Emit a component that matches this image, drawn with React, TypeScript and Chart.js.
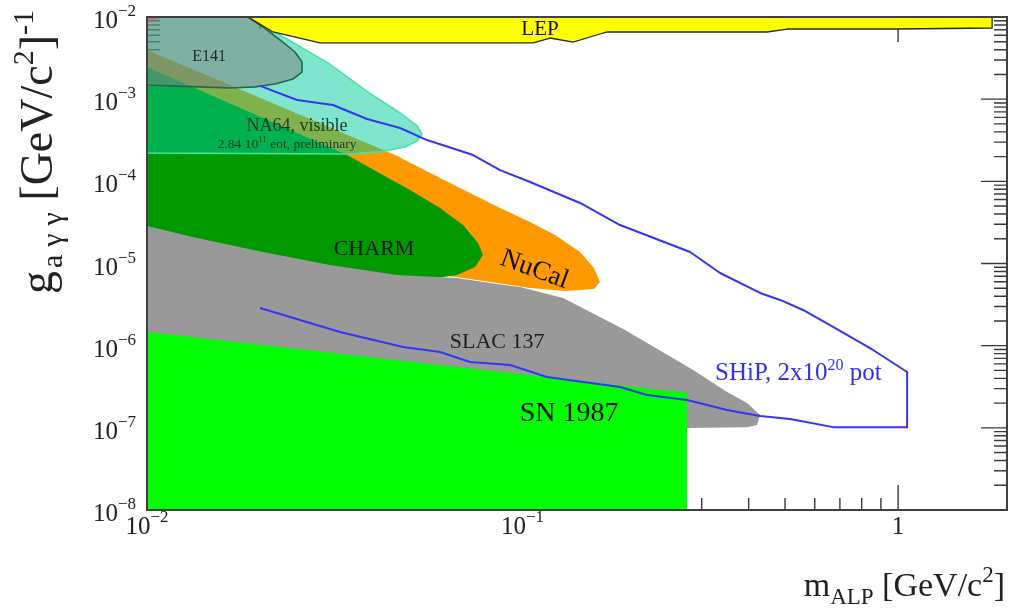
import React, { useEffect, useRef } from "react";
import { Chart, registerables } from "chart.js";

Chart.register(...registerables);

const SERIF = '"Liberation Serif", "Times New Roman", Times, serif';
const W = 1025;
const H = 615;

// Axis ranges: ALP mass [GeV/c^2] and photon coupling [GeV/c^2]^-1
const massRange = [0.01, 1.95];
const couplingRange = [1e-8, 1e-2];

// Tick labels (base, exponent)
const massTickValues = [0.01, 0.1, 1];
const massTickLabels: [string, string][] = [["10", "−2"], ["10", "−1"], ["1", ""]];
const couplingTickValues = [1e-2, 1e-3, 1e-4, 1e-5, 1e-6, 1e-7, 1e-8];
const couplingTickLabels: [string, string][] = [
  ["10", "−2"], ["10", "−3"], ["10", "−4"], ["10", "−5"], ["10", "−6"], ["10", "−7"], ["10", "−8"],
];

// LEP
const lepMass = [0.01858, 0.02165, 0.02888, 0.1067, 0.1184, 0.1363, 0.1608, 0.1679, 0.4479, 0.5064, 0.9938, 1.78, 1.78, 0.01858];
const lepCoupling = [1e-2, 6.57e-3, 4.83e-3, 4.83e-3, 5.55e-3, 4.96e-3, 6.21e-3, 6.57e-3, 6.57e-3, 7.14e-3, 7.14e-3, 7.35e-3, 1e-2, 1e-2];

// small corner region
const cornerMass = [0.01, 0.01103, 0.01];
const cornerCoupling = [1e-2, 1e-2, 8.45e-3];

// E141
const e141Mass = [0.01, 0.01858, 0.02037, 0.02261, 0.02478, 0.02587, 0.02587, 0.02448, 0.02192, 0.0194, 0.01663, 0.01384, 0.01152, 0.01, 0.01];
const e141Coupling = [1e-2, 1e-2, 7.56e-3, 5.25e-3, 3.75e-3, 2.83e-3, 2.14e-3, 1.76e-3, 1.53e-3, 1.41e-3, 1.37e-3, 1.41e-3, 1.45e-3, 1.49e-3, 1e-2];

// NA64 visible, 2.84e11 eot
const na64Mass = [0.01, 0.01858, 0.02331, 0.03034, 0.03877, 0.04719, 0.05237, 0.054, 0.05237, 0.04866, 0.04174, 0.03472, 0.01, 0.01];
const na64Coupling = [1e-2, 1e-2, 5.55e-3, 2.76e-3, 1.22e-3, 6.79e-4, 4.72e-4, 3.77e-4, 3.1e-4, 2.62e-4, 2.28e-4, 2.15e-4, 2.21e-4, 1e-2];

// NuCal
const nucalMass = [0.01, 0.04577, 0.06412, 0.08713, 0.1047, 0.1221, 0.1423, 0.155, 0.1608, 0.155, 0.1298, 0.1047, 0.08555, 0.06944, 0.04719, 0.01];
const nucalCoupling = [3.97e-3, 2.09e-4, 9.55e-5, 4.74e-5, 3.2e-5, 2.22e-5, 1.38e-5, 8.82e-6, 5.95e-6, 4.9e-6, 4.63e-6, 5.03e-6, 5.79e-6, 6.66e-6, 8.34e-6, 1.93e-5];

// CHARM
const charmMass = [0.01, 0.03409, 0.05017, 0.0603, 0.06944, 0.07613, 0.0785, 0.07474, 0.06694, 0.05672, 0.01];
const charmCoupling = [2.46e-3, 2.09e-4, 7.85e-5, 4.74e-5, 2.94e-5, 1.78e-5, 1.27e-5, 9.07e-6, 7.25e-6, 6.48e-6, 1.46e-5];

// SLAC 137
const slacMass = [0.01, 0.01359, 0.02037, 0.03072, 0.04633, 0.06694, 0.08555, 0.09847, 0.1282, 0.1875, 0.2846, 0.3504, 0.3962, 0.429, 0.4212, 0.3962, 0.2743, 0.1608, 0.01];
const slacCoupling = [2.86e-5, 2.04e-5, 1.38e-5, 9.59e-6, 7.25e-6, 6.66e-6, 5.63e-6, 5.18e-6, 3.8e-6, 1.55e-6, 5.06e-7, 2.73e-7, 2.01e-7, 1.43e-7, 1.08e-7, 1.02e-7, 9.96e-8, 9.41e-8, 9.41e-8];

// SN 1987
const snMass = [0.01, 0.2743, 0.2743, 0.01];
const snCoupling = [1.47e-6, 2.65e-7, 1e-8, 1e-8];

// SHiP sensitivity, 2x10^20 pot
const shipMass = [0.02, 0.02509, 0.03129, 0.03853, 0.04719, 0.05568, 0.07383, 0.08713, 0.1047, 0.1423, 0.1818, 0.2794, 0.3357, 0.429, 0.4851, 0.5585, 0.6713, 0.8578, 1.057, 1.057, 0.6713, 0.5158, 0.429, 0.3504, 0.2743, 0.2146, 0.1818, 0.1162, 0.09262, 0.07248, 0.0603, 0.04806, 0.03266, 0.02];
const shipCoupling = [1.45e-3, 9.77e-4, 8.49e-4, 5.74e-4, 4.46e-4, 3.18e-4, 2.09e-4, 1.37e-4, 9.82e-5, 5.45e-5, 2.94e-5, 1.38e-5, 7.66e-6, 4.38e-6, 3.6e-6, 2.72e-6, 1.69e-6, 8.86e-7, 4.78e-7, 1.02e-7, 1.02e-7, 1.28e-7, 1.39e-7, 1.65e-7, 2.18e-7, 2.51e-7, 3.14e-7, 4.16e-7, 5.82e-7, 6.33e-7, 8.37e-7, 9.64e-7, 1.47e-6, 2.87e-6];

// Region labels: text runs, anchor position in data coordinates
type Run = { t: string; size: number; dy?: number; gap?: number };
const labelRuns: Run[][] = [
  [{ t: "LEP", size: 21 }],
  [{ t: "E141", size: 16 }],
  [{ t: "NA64, visible", size: 18 }],
  [{ t: "2.84 10", size: 13.5 }, { t: "11", size: 9, dy: -6 }, { t: " eot, preliminary", size: 13.5 }],
  [{ t: "CHARM", size: 22 }],
  [{ t: "NuCal", size: 27 }],
  [{ t: "SLAC 137", size: 22 }],
  [{ t: "SN 1987", size: 28 }],
  [{ t: "SHiP, 2x10", size: 25 }, { t: "20", size: 16, dy: -10 }, { t: " pot", size: 25 }],
];
const labelMass = [0.1113, 0.01463, 0.02509, 0.0236, 0.04023, 0.108, 0.08555, 0.133, 0.3255];
const labelCoupling = [7.35e-3, 3.35e-3, 4.85e-4, 2.85e-4, 1.54e-5, 8.82e-6, 1.14e-6, 1.56e-7, 4.78e-7];
const labelAlign = ["center", "center", "center", "center", "center", "center", "center", "center", "left"];
const labelAngle = [0, 0, 0, 0, 0, 20, 0, 0, 0];
const labelColor = ["#111", "#1e2a26", "#1d3a27", "#1d3a27", "#0d1a0d", "#111", "#1e1e1e", "#0a0a0a", "#3232f0"];

const pts = (xs: number[], ys: number[]) => xs.map((x, i) => ({ x, y: ys[i] }));

function runsWidth(ctx: CanvasRenderingContext2D, runs: Run[]) {
  let w = 0;
  for (const r of runs) {
    ctx.font = `${r.size}px ${SERIF}`;
    w += ctx.measureText(r.t).width + (r.gap || 0);
  }
  return w;
}

function drawRuns(ctx: CanvasRenderingContext2D, runs: Run[], x: number, y: number) {
  let cx = x;
  ctx.textAlign = "left";
  ctx.textBaseline = "alphabetic";
  for (const r of runs) {
    ctx.font = `${r.size}px ${SERIF}`;
    ctx.fillText(r.t, cx, y + (r.dy || 0));
    cx += ctx.measureText(r.t).width + (r.gap || 0);
  }
}

// Fills each dataset's outline as a closed polygon, positioned by the chart's scales
const polygonFill = {
  id: "polygonFill",
  beforeDatasetDraw(chart: any, args: any) {
    const ds = chart.data.datasets[args.index];
    if (!ds.polygonColor) return;
    const pts = args.meta.data;
    const { ctx, chartArea: a } = chart;
    ctx.save();
    ctx.beginPath();
    ctx.rect(a.left, a.top, a.right - a.left, a.bottom - a.top);
    ctx.clip();
    ctx.beginPath();
    pts.forEach((p: any, i: number) => (i ? ctx.lineTo(p.x, p.y) : ctx.moveTo(p.x, p.y)));
    ctx.closePath();
    ctx.fillStyle = ds.polygonColor;
    ctx.fill();
    ctx.restore();
  },
};

// Inward ticks on all four sides, frame, tick labels, titles and region labels
const axisDecor = {
  id: "axisDecor",
  beforeDatasetsDraw(chart: any) {
    const { ctx, chartArea: a, scales } = chart;
    const x = scales.x;
    const y = scales.y;
    ctx.save();
    ctx.strokeStyle = "#3a3a3a";
    ctx.lineWidth = 1.4;
    ctx.beginPath();
    for (let d = -2; d <= 0; d++) {
      for (let m = 1; m <= 9; m++) {
        const v = m * Math.pow(10, d);
        if (v < massRange[0] * 0.999 || v > massRange[1]) continue;
        const px = x.getPixelForValue(v);
        const len = m === 1 ? 25 : 12;
        ctx.moveTo(px, a.bottom);
        ctx.lineTo(px, a.bottom - len);
        ctx.moveTo(px, a.top);
        ctx.lineTo(px, a.top + len);
      }
    }
    for (let d = -8; d <= -2; d++) {
      for (let m = 1; m <= 9; m++) {
        const v = m * Math.pow(10, d);
        if (v > couplingRange[1] * 1.001) continue;
        const py = y.getPixelForValue(v);
        const len = m === 1 ? 26 : 13;
        ctx.moveTo(a.left, py);
        ctx.lineTo(a.left + len, py);
        ctx.moveTo(a.right, py);
        ctx.lineTo(a.right - len, py);
      }
    }
    ctx.stroke();
    ctx.restore();
  },
  afterDatasetsDraw(chart: any) {
    const { ctx, chartArea: a, scales } = chart;
    const x = scales.x;
    const y = scales.y;
    ctx.save();

    // frame
    ctx.strokeStyle = "#404040";
    ctx.lineWidth = 2;
    ctx.strokeRect(a.left, a.top, a.right - a.left, a.bottom - a.top);

    ctx.fillStyle = "#222";
    // y tick labels
    couplingTickValues.forEach((v, i) => {
      const [base, exp] = couplingTickLabels[i];
      const py = y.getPixelForValue(v);
      const runs: Run[] = [{ t: base, size: 25 }, { t: exp, size: 17, dy: -12 }];
      const w = runsWidth(ctx, runs);
      drawRuns(ctx, runs, a.left - 11 - w, py + 11);
    });
    // x tick labels
    massTickValues.forEach((v, i) => {
      const [base, exp] = massTickLabels[i];
      const px = x.getPixelForValue(v);
      const runs: Run[] = exp ? [{ t: base, size: 25 }, { t: exp, size: 17, dy: -12 }] : [{ t: base, size: 25 }];
      const w = runsWidth(ctx, runs);
      drawRuns(ctx, runs, px - w / 2, a.bottom + 24);
    });

    // x title
    const xt: Run[] = [
      { t: "m", size: 34 },
      { t: "ALP", size: 23, dy: 8 },
      { t: " [GeV/c", size: 34 },
      { t: "2", size: 23, dy: -14 },
      { t: "]", size: 34 },
    ];
    drawRuns(ctx, xt, a.right - 2 - runsWidth(ctx, xt), 596);

    // y title, rotated
    const yt: Run[] = [
      { t: "g", size: 46, gap: 3 },
      { t: "a", size: 30, dy: 10, gap: 8 },
      { t: "γ", size: 30, dy: 10, gap: 8 },
      { t: "γ", size: 30, dy: 10 },
      { t: " [GeV/c", size: 46 },
      { t: "2", size: 30, dy: -19 },
      { t: "]", size: 46 },
      { t: "-1", size: 30, dy: -19 },
    ];
    ctx.save();
    ctx.translate(52, 294);
    ctx.rotate(-Math.PI / 2);
    drawRuns(ctx, yt, 0, 0);
    ctx.restore();

    // region labels
    ctx.beginPath();
    ctx.rect(a.left, a.top, a.right - a.left, a.bottom - a.top);
    ctx.clip();
    labelRuns.forEach((runs, i) => {
      const px = x.getPixelForValue(labelMass[i]);
      const py = y.getPixelForValue(labelCoupling[i]);
      const size = runs[0].size;
      const w = runsWidth(ctx, runs);
      ctx.save();
      ctx.fillStyle = labelColor[i];
      ctx.translate(px, py);
      ctx.rotate((labelAngle[i] * Math.PI) / 180);
      const sx = labelAlign[i] === "left" ? 0 : -w / 2;
      drawRuns(ctx, runs, sx, size * 0.33);
      ctx.restore();
    });
    ctx.restore();
  },
};

const datasets: any[] = [
  { label: "SHiP", data: pts(shipMass, shipCoupling), showLine: true, borderColor: "#3535f2", borderWidth: 2 },
  { label: "LEP", data: pts(lepMass, lepCoupling), showLine: true, borderColor: "#2a2a2a", borderWidth: 1.3, polygonColor: "#ffff00" },
  { label: "corner", data: pts(cornerMass, cornerCoupling), showLine: false, borderWidth: 0, polygonColor: "rgba(240,80,120,0.55)" },
  { label: "E141", data: pts(e141Mass, e141Coupling), showLine: true, borderColor: "#2b6454", borderWidth: 1.6, polygonColor: "rgba(125,125,125,0.5)" },
  { label: "NA64", data: pts(na64Mass, na64Coupling), showLine: true, borderColor: "#48e2ab", borderWidth: 1.6, polygonColor: "rgba(0,204,153,0.5)" },
  { label: "SN 1987", data: pts(snMass, snCoupling), showLine: false, borderWidth: 0, polygonColor: "#00ff00" },
  { label: "SLAC 137", data: pts(slacMass, slacCoupling), showLine: false, borderWidth: 0, polygonColor: "#999999" },
  { label: "CHARM", data: pts(charmMass, charmCoupling), showLine: false, borderWidth: 0, polygonColor: "#009900" },
  { label: "NuCal", data: pts(nucalMass, nucalCoupling), showLine: false, borderWidth: 0, polygonColor: "#ff9900" },
];

export default function App() {
  const ref = useRef<HTMLCanvasElement>(null);
  useEffect(() => {
    const canvas = ref.current;
    if (!canvas) return;
    const chart = new Chart(canvas, {
      type: "scatter",
      data: { datasets },
      options: {
        animation: false,
        responsive: false,
        events: [],
        layout: { padding: { top: 17, right: 18, left: 0, bottom: 0 } },
        elements: { point: { radius: 0 }, line: { tension: 0, borderJoinStyle: "round" } },
        plugins: { legend: { display: false }, tooltip: { enabled: false } },
        scales: {
          x: {
            type: "logarithmic",
            min: massRange[0],
            max: massRange[1],
            bounds: "data",
            grid: { display: false },
            border: { display: false },
            ticks: { display: false },
            afterFit: (s: any) => { s.height = 105; },
          },
          y: {
            type: "logarithmic",
            min: couplingRange[0],
            max: couplingRange[1],
            bounds: "data",
            grid: { display: false },
            border: { display: false },
            ticks: { display: false },
            afterFit: (s: any) => { s.width = 147; },
          },
        },
      } as any,
      plugins: [polygonFill, axisDecor],
    });
    return () => chart.destroy();
  }, []);
  return (
    <div style={{ position: "fixed", left: 0, top: 0, width: W, height: H, background: "#fff" }}>
      <canvas ref={ref} width={W} height={H} style={{ display: "block", width: W, height: H }} />
    </div>
  );
}
